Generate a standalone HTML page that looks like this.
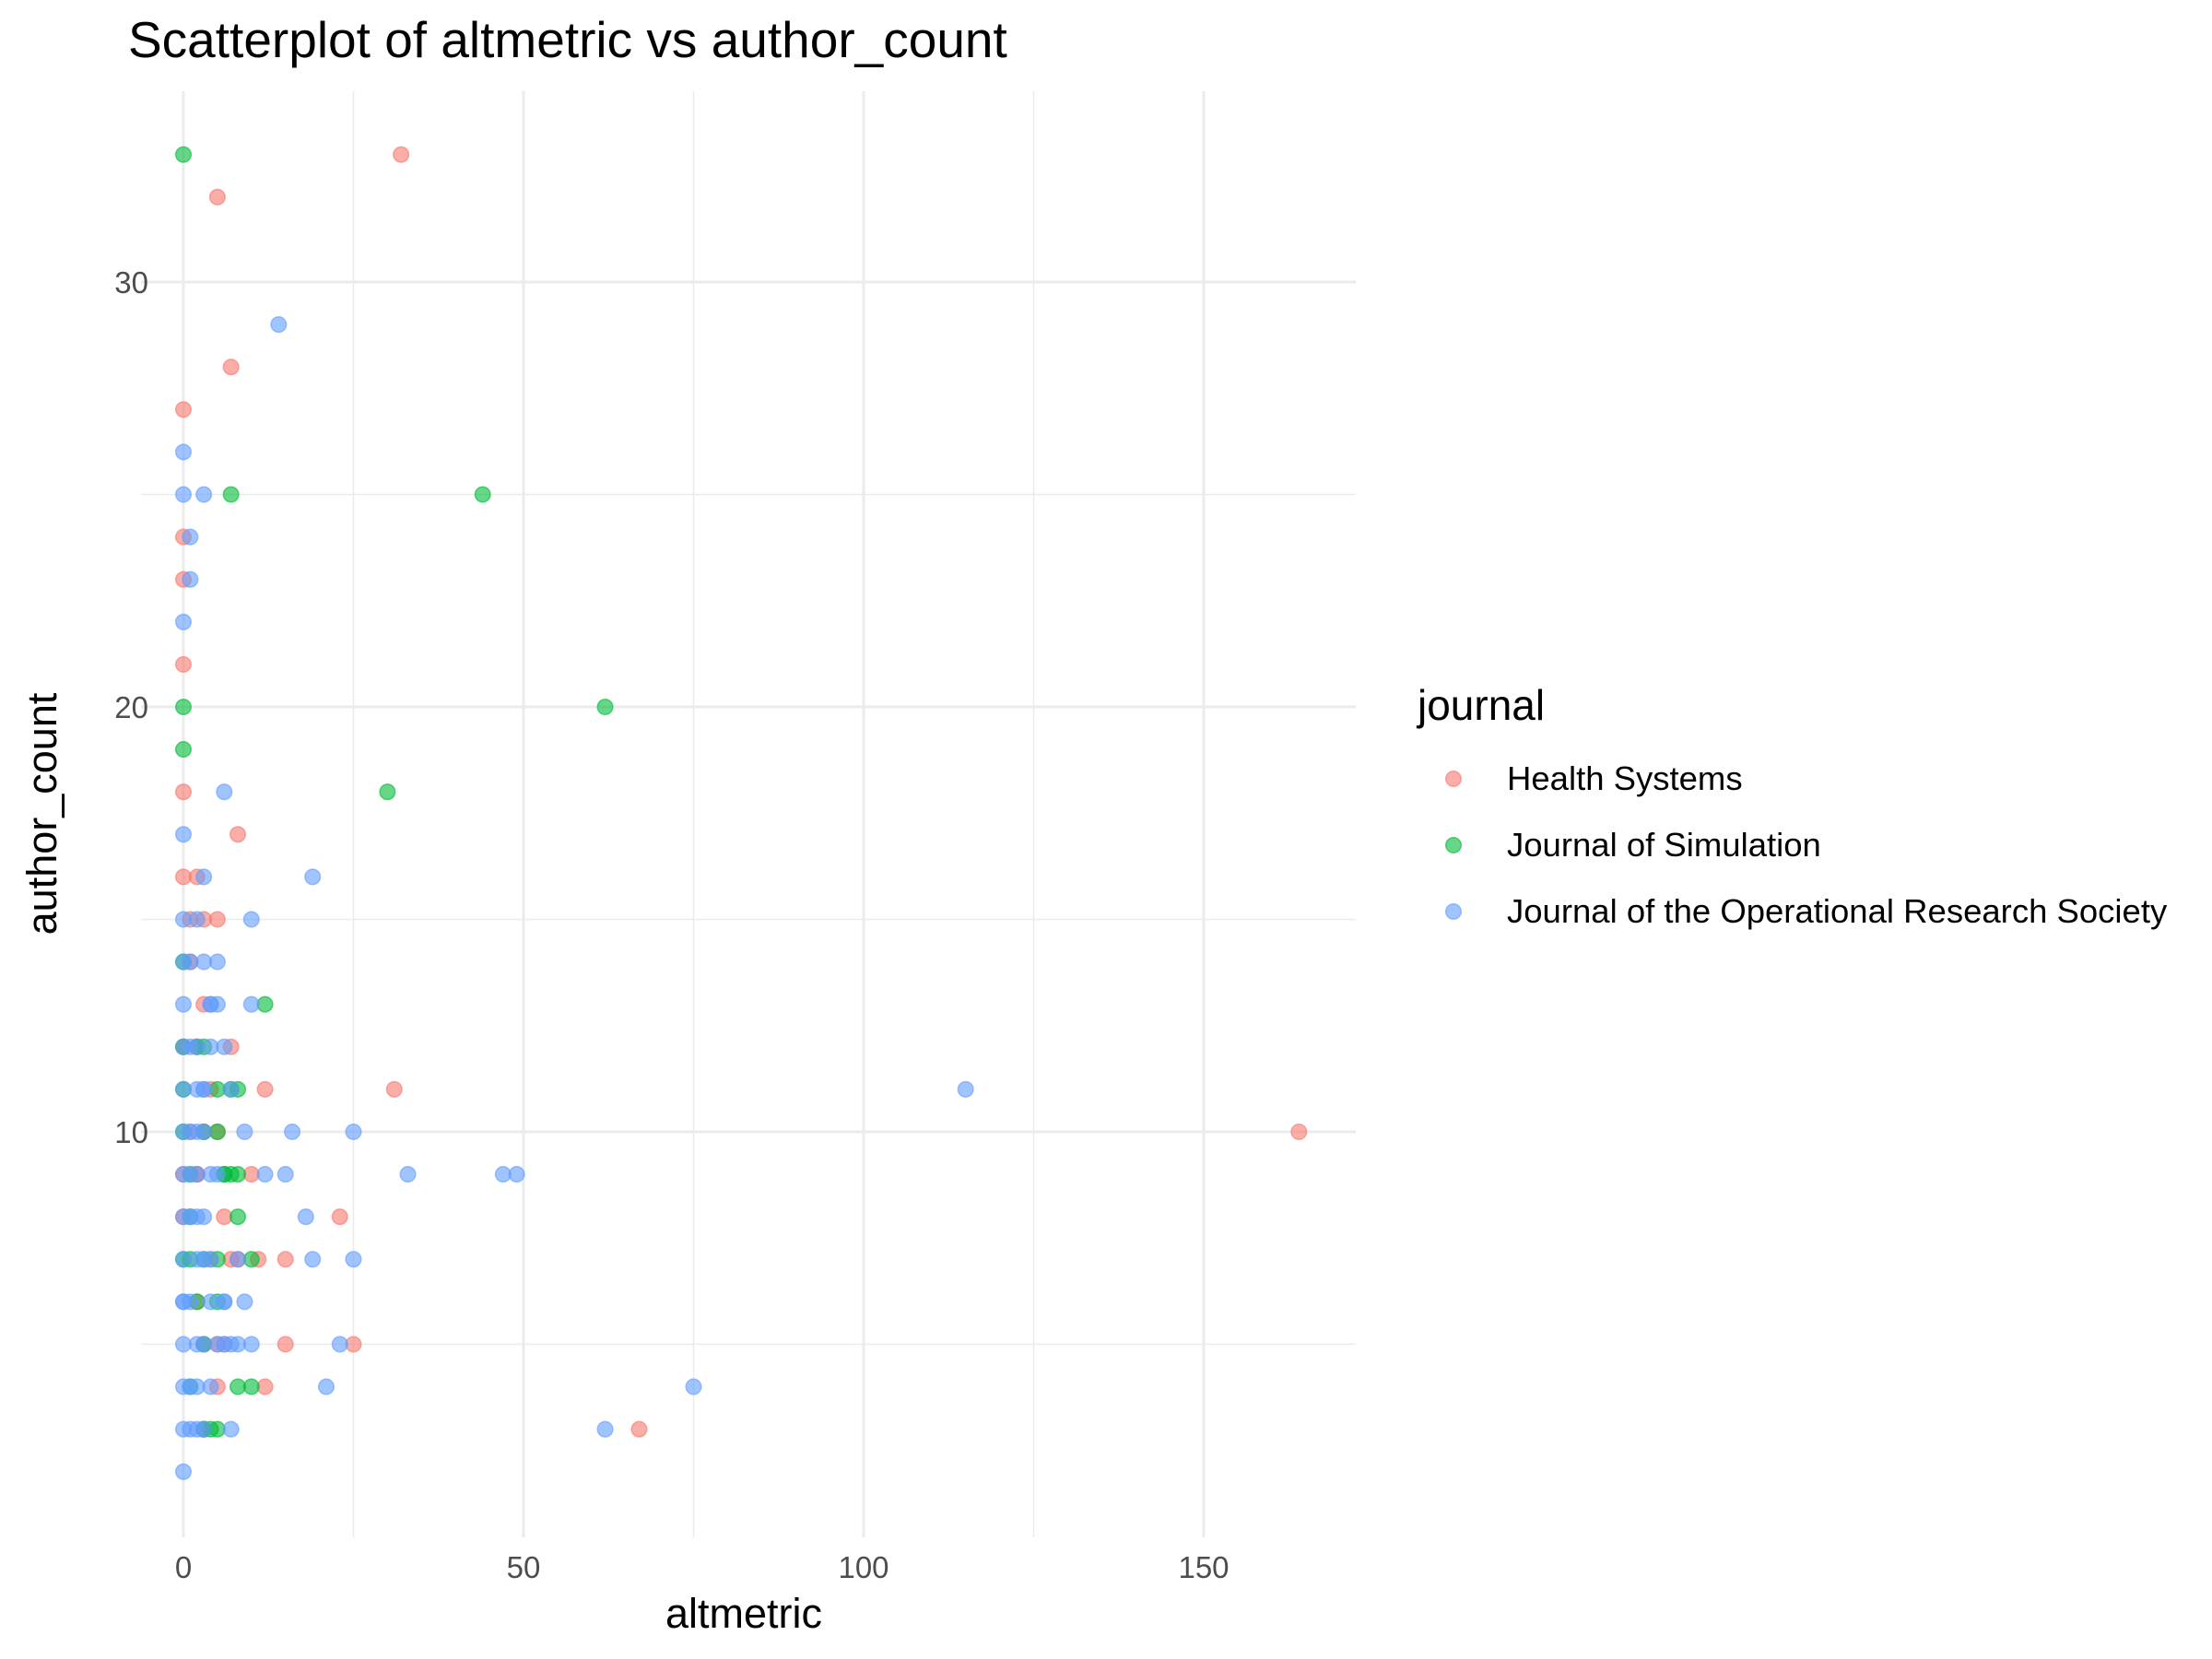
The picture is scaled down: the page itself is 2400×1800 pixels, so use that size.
<!DOCTYPE html>
<html><head><meta charset="utf-8"><style>
html,body{margin:0;padding:0;background:#fff;}
svg{display:block;font-family:"Liberation Sans",sans-serif;}
</style></head><body>
<svg id="chart" width="2400" height="1800" viewBox="0 0 2400 1800">
<rect width="2400" height="1800" fill="#fff"/>
<text x="139" y="62" font-size="55" fill="#000">Scatterplot of altmetric vs author_count</text>
<g id="grid"></g><g id="ticks"></g><g id="points"></g>
<text x="807" y="1766" font-size="45" text-anchor="middle" fill="#000">altmetric</text>
<text transform="translate(61,883) rotate(-90)" font-size="45" text-anchor="middle" fill="#000">author_count</text>
<g id="legend">
<text x="1538" y="781" font-size="46" fill="#000">journal</text>
</g>
</svg>
<script>
const journals = ["Health Systems","Journal of Simulation","Journal of the Operational Research Society"];
const colors = ["#F8766D","#00BA38","#619CFF"];
const xTicks = [0,50,100,150];
const xMinor = [25,75,125];
const yTicks = [10,20,30];
const yMinor = [5,15,25];
const healthX = [32,5,7,0,0,0,0,0,8,2,0,5,3,1,7,12,31,164,3,5,10,2,23,6,15,11,8,25,15,5,3,12,5,67,1,3,2,4,2,0,1,0,4,6,2,0,3,7];
const healthY = [33,32,28,27,24,23,21,18,17,16,16,15,15,15,12,11,11,10,10,10,9,9,8,8,7,7,7,5,5,5,5,4,4,3,14,13,12,11,9,8,10,9,7,5,6,12,3,7];
const simX = [0,7,44,62,0,0,30,0,12,0,3,8,0,5,3,5,8,6,7,8,1,10,3,5,8,10,1,3,5,1,0,2,0,2,4,6,1,3,7,5];
const simY = [33,25,25,20,20,19,18,14,13,12,12,11,11,11,10,10,9,9,9,8,8,7,7,7,4,4,4,3,3,9,10,6,7,12,3,9,7,5,11,6];
const jorsX = [14,0,0,3,1,1,0,6,0,19,3,0,10,5,3,0,10,5,0,6,0,4,115,7,3,0,25,16,9,0,2,33,47,49,15,12,0,4,18,0,3,19,25,0,4,9,0,4,6,23,10,0,7,21,75,0,4,62,0,7,0,2,6,8,1,2,1,2,1,3,2,4,1,2,3,5,1,1,2,6,3,2,1,3,2,4,1,0,2,5,8,3];
const jorsY = [29,26,25,25,24,23,22,18,17,16,16,15,15,14,14,14,13,13,13,12,12,12,11,11,11,11,10,10,10,10,10,9,9,9,9,9,9,9,8,8,8,7,7,7,7,6,6,6,6,5,5,5,5,4,4,4,4,3,3,3,2,3,5,5,6,7,8,9,10,11,12,13,14,15,5,5,4,3,4,6,7,8,9,10,11,13,12,6,5,9,7,3];
const svgNS="http://www.w3.org/2000/svg";
const PL=153,PR=1471,PT=99,PB=1668;
function sx(v){return 199+v*(1306-199)/150;}
function sy(v){return 1228-(v-10)*(1228-306)/20;}
function mk(tag,attrs,parent){const e=document.createElementNS(svgNS,tag);for(const k in attrs)e.setAttribute(k,attrs[k]);parent.appendChild(e);return e;}
const grid=document.getElementById('grid'),ticks=document.getElementById('ticks');
xMinor.forEach(v=>{const l=mk('line',{x1:sx(v),x2:sx(v),y1:PT,y2:PB,stroke:'#ebebeb','stroke-width':1.5},grid);

});
yMinor.forEach(v=>{const l=mk('line',{x1:PL,x2:PR,y1:sy(v),y2:sy(v),stroke:'#ebebeb','stroke-width':1.5},grid);

});
xTicks.forEach(v=>{const l=mk('line',{x1:sx(v),x2:sx(v),y1:PT,y2:PB,stroke:'#ebebeb','stroke-width':3},grid);


const t=mk('text',{x:sx(v),y:1712,'font-size':33,'text-anchor':'middle',fill:'#4d4d4d'},ticks);t.textContent=v;

});
yTicks.forEach(v=>{const l=mk('line',{x1:PL,x2:PR,y1:sy(v),y2:sy(v),stroke:'#ebebeb','stroke-width':3},grid);


const t=mk('text',{x:161,y:sy(v)+12,'font-size':33,'text-anchor':'end',fill:'#4d4d4d'},ticks);t.textContent=v;

});
const pts=document.getElementById('points');
const series=[[healthX,healthY],[simX,simY],[jorsX,jorsY]];
series.forEach((s,i)=>{s[0].forEach((x,j)=>{const c=mk('circle',{cx:sx(x),cy:sy(s[1][j]),r:8.3,fill:colors[i],'fill-opacity':0.6,stroke:colors[i],'stroke-opacity':0.6,'stroke-width':1.5},pts);

});});
const lg=document.getElementById('legend');
journals.forEach((j,i)=>{const y=845+i*72;
const c=mk('circle',{cx:1577,cy:y,r:8.3,fill:colors[i],'fill-opacity':0.6,stroke:colors[i],'stroke-opacity':0.6,'stroke-width':1.5},lg);


const t=mk('text',{x:1635,y:y+12,'font-size':36.5,fill:'#000'},lg);t.textContent=j;

});
</script>
</body></html>
